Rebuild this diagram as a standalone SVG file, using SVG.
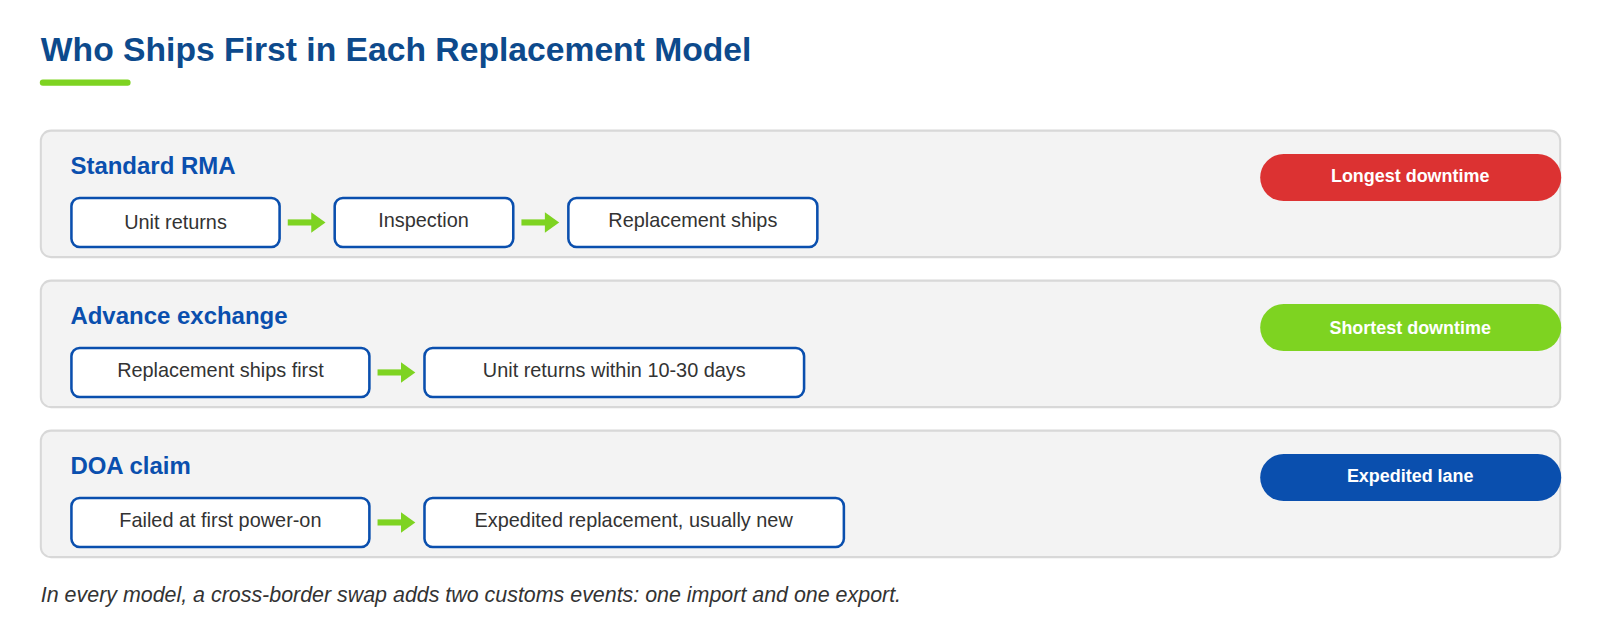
<svg xmlns="http://www.w3.org/2000/svg" width="1600" height="640" viewBox="0 0 1600 640">
<defs>
<style>
text{font-family:"Liberation Sans",Arial,sans-serif}
.panel{fill:#f3f3f3;stroke:#d8d8d8;stroke-width:2}
.h{fill:#0a4fae;font-size:23.5px;font-weight:bold}
.box{fill:#fff;stroke:#0a4fae;stroke-width:2.5}
.bt{fill:#333;font-size:19.5px;text-anchor:middle}
.pt{fill:#fff;font-size:17.6px;font-weight:bold;text-anchor:middle}
.arr{stroke:#7ed321;stroke-width:6;fill:none}
.ah{fill:#7ed321}
</style>
</defs>
<rect width="1600" height="640" fill="#fff"/>
<g transform="scale(1.0204)">
<text x="40" y="60" font-size="33" font-weight="bold" fill="#0d4a8c">Who Ships First in Each Replacement Model</text>
<line x1="42" y1="81" x2="125" y2="81" stroke="#7ed321" stroke-width="6" stroke-linecap="round"/>
<g id="panel1">
<rect class="panel" x="40" y="128" width="1489" height="124" rx="10"/>
<text class="h" x="69" y="171">Standard RMA</text>
<rect x="1235" y="151" width="295" height="46" rx="23" fill="#dc3232"/>
<text class="pt" x="1382" y="178">Longest downtime</text>
</g>
<g id="n1"><rect class="box" x="70" y="194" width="204" height="48" rx="8"/><text class="bt" x="172" y="224">Unit returns</text></g>
<g id="n2"><rect class="box" x="328" y="194" width="175" height="48" rx="8"/><text class="bt" x="415" y="222">Inspection</text></g>
<g id="n3"><rect class="box" x="557" y="194" width="244" height="48" rx="8"/><text class="bt" x="679" y="222">Replacement ships</text></g>
<g id="panel2">
<rect class="panel" x="40" y="275" width="1489" height="124" rx="10"/>
<text class="h" x="69" y="318">Advance exchange</text>
<rect x="1235" y="298" width="295" height="46" rx="23" fill="#7ed321"/>
<text class="pt" x="1382" y="327">Shortest downtime</text>
</g>
<g id="n4"><rect class="box" x="70" y="341" width="292" height="48" rx="8"/><text class="bt" x="216" y="369">Replacement ships first</text></g>
<g id="n5"><rect class="box" x="416" y="341" width="372" height="48" rx="8"/><text class="bt" x="602" y="369">Unit returns within 10-30 days</text></g>
<g id="panel3">
<rect class="panel" x="40" y="422" width="1489" height="124" rx="10"/>
<text class="h" x="69" y="465">DOA claim</text>
<rect x="1235" y="445" width="295" height="46" rx="23" fill="#0a4fae"/>
<text class="pt" x="1382" y="472">Expedited lane</text>
</g>
<g id="n6"><rect class="box" x="70" y="488" width="292" height="48" rx="8"/><text class="bt" x="216" y="516">Failed at first power-on</text></g>
<g id="n7"><rect class="box" x="416" y="488" width="411" height="48" rx="8"/><text class="bt" x="621" y="516">Expedited replacement, usually new</text></g>
<g id="connectors">
<line class="arr" x1="282" y1="218" x2="306" y2="218"/><polygon class="ah" points="305,208 319,218 305,228"/>
<line class="arr" x1="511" y1="218" x2="535" y2="218"/><polygon class="ah" points="534,208 548,218 534,228"/>
<line class="arr" x1="370" y1="365" x2="394" y2="365"/><polygon class="ah" points="393,355 407,365 393,375"/>
<line class="arr" x1="370" y1="512" x2="394" y2="512"/><polygon class="ah" points="393,502 407,512 393,522"/>
</g>
<text x="40" y="590" font-size="21" font-style="italic" fill="#333">In every model, a cross-border swap adds two customs events: one import and one export.</text>
</g>
</svg>
